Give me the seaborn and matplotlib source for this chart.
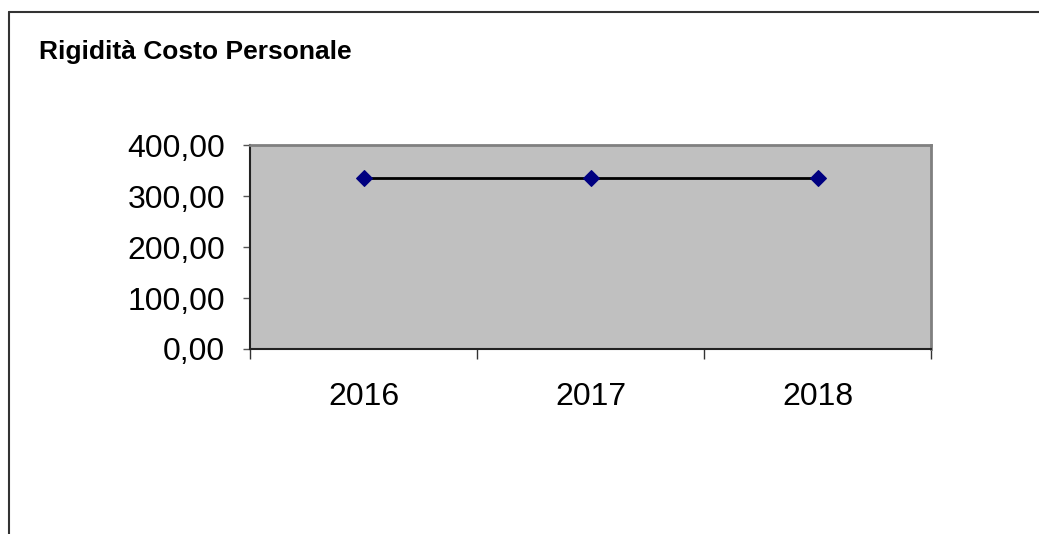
import matplotlib
matplotlib.use("Agg")
import matplotlib.pyplot as plt
import seaborn as sns
import pandas as pd
from matplotlib.ticker import FuncFormatter, FixedLocator
from matplotlib.lines import Line2D

# data
years = ["2016", "2017", "2018"]
values = [336.0, 336.0, 336.0]
title = "Rigidità Costo Personale"
y_ticks = [0, 100, 200, 300, 400]

sns.set_style("white")
plt.rcParams['font.family'] = ['Liberation Sans', 'DejaVu Sans']
plt.rcParams['text.color'] = 'black'
plt.rcParams['xtick.labelcolor'] = 'black'
plt.rcParams['ytick.labelcolor'] = 'black'

df = pd.DataFrame({"anno": years, "valore": values})

fig = plt.figure(figsize=(10.39, 5.34), dpi=100)
ax = fig.add_axes([250 / 1039, 1 - 349 / 534, 681 / 1039, 204 / 534])
ax.set_facecolor("#C0C0C0")

sns.lineplot(data=df, x="anno", y="valore", ax=ax, color="black", linewidth=2,
             marker="D", markersize=8, markerfacecolor="#000080",
             markeredgecolor="#000080", sort=False)

ax.set_xlim(-0.5, len(years) - 0.5)
ax.set_ylim(0, 400)
ax.set_yticks(y_ticks)
ax.yaxis.set_major_formatter(FuncFormatter(lambda v, p: f"{v:.2f}".replace(".", ",")))
ax.set_xlabel("")
ax.set_ylabel("")

# category labels at centres, tick marks at boundaries
ax.set_xticks(range(len(years)))
ax.set_xticklabels(years)
ax.xaxis.set_minor_locator(FixedLocator([i - 0.5 for i in range(len(years) + 1)]))
ax.tick_params(axis="x", which="major", length=0, pad=24, labelsize=23, labelcolor="black")
ax.tick_params(axis="x", which="minor", length=7, width=1, color="#333333", direction="out", bottom=True)
ax.tick_params(axis="y", length=5, width=1, color="#555555", direction="out", left=True, pad=13,
               labelsize=23, labelcolor="black")

for side in ["left", "bottom"]:
    ax.spines[side].set_color("#222222")
    ax.spines[side].set_linewidth(1.5)
for side in ["top", "right"]:
    ax.spines[side].set_visible(True)
    ax.spines[side].set_color("#808080")
    ax.spines[side].set_linewidth(2)

fig.text(39 / 1039, 1 - 59 / 534, title, fontsize=19, fontweight="bold", va="baseline", ha="left",
         color="black")

# outer chart frame (top and left visible)
fig.add_artist(Line2D([9 / 1039, 1.0], [1 - 12 / 534, 1 - 12 / 534], transform=fig.transFigure,
                      color="#333333", linewidth=1.5))
fig.add_artist(Line2D([9 / 1039, 9 / 1039], [0, 1 - 12 / 534], transform=fig.transFigure,
                      color="#333333", linewidth=1.5))

fig.savefig("out.png", dpi=100, facecolor="white")
